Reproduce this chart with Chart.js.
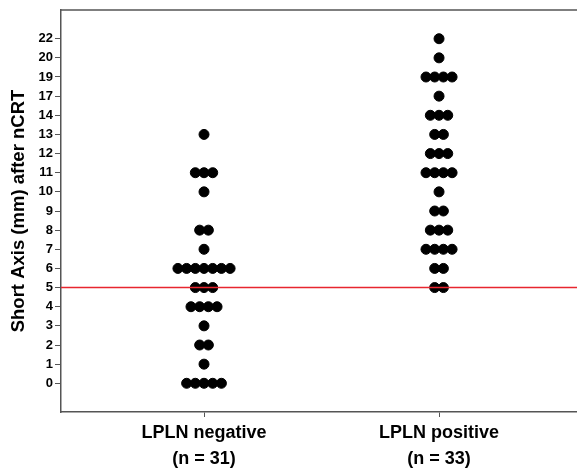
<!DOCTYPE html>
<html>
<head>
<meta charset="utf-8">
<script src="https://cdn.jsdelivr.net/npm/chart.js@4/dist/chart.umd.min.js"></script>
<style>
  html, body { margin: 0; padding: 0; background: #fff; }
  #wrap { width: 577px; height: 469px; }
</style>
</head>
<body>
<div id="wrap"><canvas id="dotChart"></canvas></div>
<script>
// ─── Data ────────────────────────────────────────────────────
const yTickLabels = [0, 1, 2, 3, 4, 5, 6, 7, 8, 9, 10, 11, 12, 13, 14, 17, 19, 20, 22];
const groups      = [['LPLN negative', '(n = 31)'], ['LPLN positive', '(n = 33)']];

// dots per value (value -> count)
const negValues = [0, 1, 2, 3, 4, 5, 6, 7, 8, 10, 11, 13];
const negCounts = [5, 1, 2, 1, 4, 3, 7, 1, 2, 1,  3,  1];
const posValues = [5, 6, 7, 8, 9, 10, 11, 12, 13, 14, 17, 19, 20, 22];
const posCounts = [2, 2, 4, 3, 2, 1,  4,  3,  2,  3,  1,  4,  1,  1];
const cutoff = 5;

const DOT_STEP = 0.037; // horizontal spacing of stacked dots, in x units
const FONT = '"Liberation Sans", Arial, sans-serif';

function dotPoints(values, counts, groupIdx) {
  const pts = [];
  values.forEach((v, i) => {
    const n = counts[i];
    const rank = yTickLabels.indexOf(v);
    for (let j = 0; j < n; j++) {
      pts.push({ x: groupIdx + 1 + (j - (n - 1) / 2) * DOT_STEP, y: rank });
    }
  });
  return pts;
}

const X_MIN = 0.3915, X_MAX = 2.587;
const cutRank = yTickLabels.indexOf(cutoff);

// top frame line
const topBorder = {
  id: 'topBorder',
  afterDraw(chart) {
    const { ctx, chartArea } = chart;
    ctx.save();
    ctx.strokeStyle = '#555';
    ctx.lineWidth = 1.5;
    ctx.beginPath();
    ctx.moveTo(chartArea.left, chartArea.top);
    ctx.lineTo(chartArea.right, chartArea.top);
    ctx.stroke();
    ctx.restore();
  }
};

new Chart(document.getElementById('dotChart'), {
  type: 'scatter',
  data: {
    datasets: [
      {
        type: 'line',
        data: [{ x: X_MIN, y: cutRank }, { x: X_MAX, y: cutRank }],
        borderColor: '#e8262f',
        borderWidth: 1.5,
        pointRadius: 0,
        order: 0,
      },
      {
        data: dotPoints(negValues, negCounts, 0),
        backgroundColor: '#000',
        borderColor: '#000',
        pointRadius: 5,
        order: 1,
      },
      {
        data: dotPoints(posValues, posCounts, 1),
        backgroundColor: '#000',
        borderColor: '#000',
        pointRadius: 5,
        order: 1,
      },
    ]
  },
  options: {
    responsive: true,
    maintainAspectRatio: false,
    animation: false,
    layout: { autoPadding: false, padding: { top: 10, right: 0, left: 0, bottom: 0 } },
    plugins: { legend: { display: false }, tooltip: { enabled: false } },
    scales: {
      x: {
        type: 'linear',
        min: X_MIN,
        max: X_MAX,
        afterBuildTicks: s => { s.ticks = [{ value: 1 }, { value: 2 }]; },
        afterFit: s => { s.height = 57; },
        grid: { drawOnChartArea: false, drawTicks: true, tickLength: 5, color: '#555' },
        border: { color: '#555', width: 1.5 },
        ticks: {
          color: '#000',
          padding: 3,
          maxRotation: 0,
          autoSkip: false,
          font: { family: FONT, size: 18, weight: 'bold', lineHeight: 1.45 },
          callback: v => groups[v - 1] || '',
        }
      },
      y: {
        type: 'linear',
        min: -1.5,
        max: 19.5,
        afterBuildTicks: s => { s.ticks = yTickLabels.map((_, i) => ({ value: i })); },
        afterFit: s => { s.width = 61; },
        grid: { drawOnChartArea: false, drawTicks: true, tickLength: 6, color: '#555' },
        border: { color: '#555', width: 1.5 },
        title: {
          display: true,
          text: 'Short Axis (mm) after nCRT',
          color: '#000',
          padding: { top: 8, bottom: 2 },
          font: { family: FONT, size: 18.5, weight: 'bold' },
        },
        ticks: {
          color: '#000',
          padding: 2,
          autoSkip: false,
          font: { family: FONT, size: 13, weight: 'bold' },
          callback: v => yTickLabels[v],
        }
      }
    }
  },
  plugins: [topBorder]
});
</script>
</body>
</html>
